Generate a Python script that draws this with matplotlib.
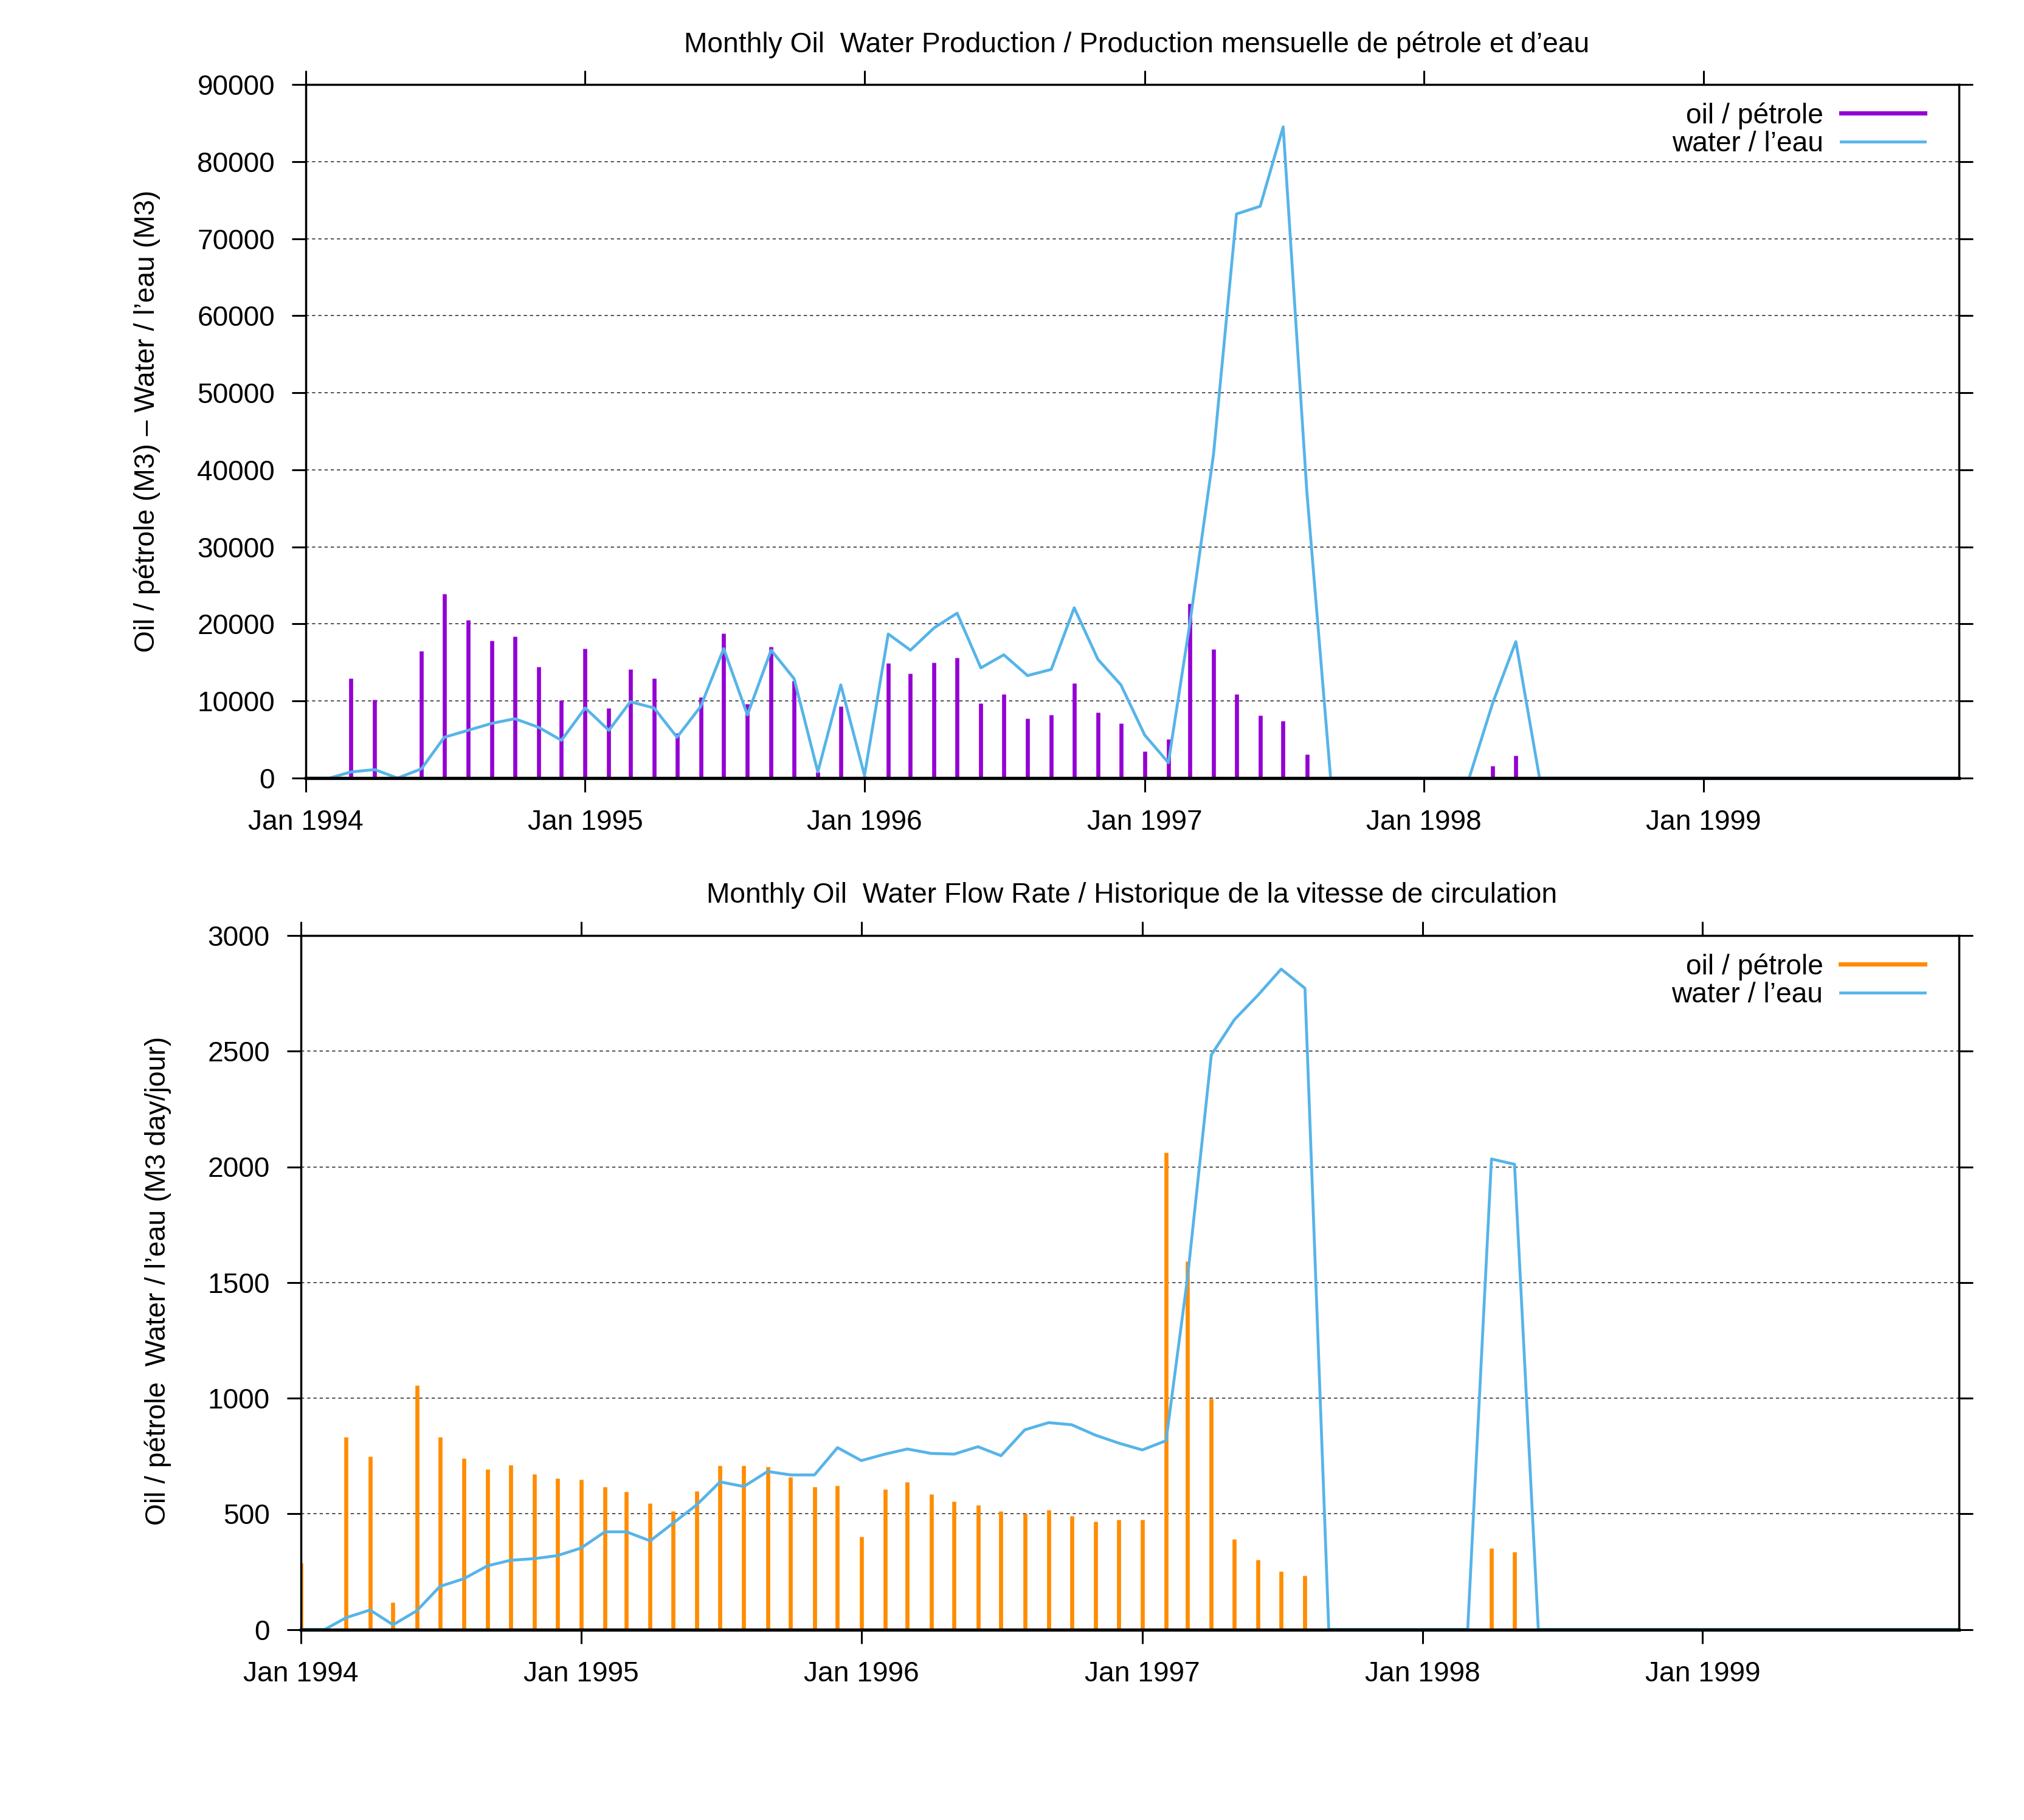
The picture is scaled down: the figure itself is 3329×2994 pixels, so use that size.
import matplotlib
matplotlib.use("Agg")
import matplotlib.pyplot as plt
import matplotlib.dates as mdates
from matplotlib.lines import Line2D
import pandas as pd

plt.rcParams['font.family'] = ['Liberation Sans', 'DejaVu Sans']

# ---------------- data ----------------
dates = pd.date_range('1994-01-01', '1999-12-01', freq='MS')

# Monthly production (M3)
oil_volume = [
    0, 0, 12900, 10200, 0, 16500, 23900, 20500, 17800, 18400, 14400, 10100,      # 1994
    16800, 9100, 14100, 12900, 5800, 10500, 18800, 9600, 17000, 12600, 800, 9300,  # 1995
    250, 14900, 13600, 15000, 15600, 9700, 10900, 7700, 8200, 12300, 8500, 7100,   # 1996
    3450, 5050, 22600, 16700, 10850, 8150, 7450, 3050, 0, 0, 0, 0,                 # 1997
    0, 0, 0, 1600, 2900, 0, 0, 0, 0, 0, 0, 0,                                      # 1998
    0, 0, 0, 0, 0, 0, 0, 0, 0, 0, 0, 0,                                            # 1999
]
water_volume = [
    0, 0, 800, 1100, 0, 1200, 5300, 6200, 7100, 7700, 6600, 4900,                  # 1994
    9100, 6200, 9900, 9100, 5300, 9300, 16800, 8200, 16600, 12900, 800, 12100,     # 1995
    350, 18700, 16600, 19500, 21400, 14300, 16000, 13300, 14100, 22100, 15400, 12100,  # 1996
    5600, 2000, 20000, 42000, 73200, 74200, 84500, 37100, 0, 0, 0, 0,              # 1997
    0, 0, 0, 9800, 17700, 0, 0, 0, 0, 0, 0, 0,                                     # 1998
    0, 0, 0, 0, 0, 0, 0, 0, 0, 0, 0, 0,                                            # 1999
]

# Monthly flow rate (M3 day/jour)
oil_rate = [
    288, 0, 833, 749, 117, 1054, 833, 741, 693, 712, 672, 653,                     # 1994
    649, 617, 596, 546, 512, 599, 707, 709, 704, 659, 617, 622,                    # 1995
    400, 607, 637, 586, 552, 537, 511, 501, 517, 491, 467, 475,                    # 1996
    475, 2062, 1592, 998, 391, 302, 251, 233, 0, 0, 0, 0,                          # 1997
    0, 0, 0, 351, 335, 0, 0, 0, 0, 0, 0, 0,                                        # 1998
    0, 0, 0, 0, 0, 0, 0, 0, 0, 0, 0, 0,                                            # 1999
]
water_rate = [
    0, 0, 51, 84, 20, 81, 186, 219, 275, 299, 306, 319,                            # 1994
    352, 422, 422, 383, 460, 540, 638, 618, 683, 668, 668, 786,                    # 1995
    730, 758, 780, 761, 758, 790, 751, 863, 894, 885, 840, 806,                    # 1996
    776, 816, 1520, 2484, 2636, 2743, 2855, 2772, 0, 0, 0, 0,                      # 1997
    0, 0, 0, 2034, 2011, 0, 0, 0, 0, 0, 0, 0,                                      # 1998
    0, 0, 0, 0, 0, 0, 0, 0, 0, 0, 0, 0,                                            # 1999
]

top_title = "Monthly Oil  Water Production / Production mensuelle de pétrole et d’eau"
bottom_title = "Monthly Oil  Water Flow Rate / Historique de la vitesse de circulation"
top_ylabel = "Oil / pétrole (M3) – Water / l’eau (M3)"
bottom_ylabel = "Oil / pétrole  Water / l’eau (M3 day/jour)"
oil_label = "oil / pétrole"
water_label = "water / l’eau"
top_yticks = list(range(0, 90001, 10000))
bottom_yticks = list(range(0, 3001, 500))

PURPLE = "#9400D3"
ORANGE = "#FF8C00"
BLUE = "#56B4E9"

# ---------------- figure ----------------
W, H = 3329, 2994
DPI = 200
FS = 16.6
fig = plt.figure(figsize=(W / DPI, H / DPI), dpi=DPI)
fig.patch.set_facecolor("white")

def px_axes(left, top, right, bottom):
    return [left / W, 1 - bottom / H, (right - left) / W, (bottom - top) / H]

ax1 = fig.add_axes(px_axes(503, 139, 3222, 1280))
ax2 = fig.add_axes(px_axes(495, 1539, 3222, 2680.5))

def style(ax, oil, water, oil_color, yticks, ymax):
    ax.vlines(dates, 0, oil, colors=oil_color, lw=2.4, zorder=2)
    ax.plot(dates, water, color=BLUE, lw=1.7, zorder=3)
    ax.set_xlim(dates[0], dates[-1])
    ax.set_ylim(0, ymax)
    ax.set_yticks(yticks)
    ax.set_yticklabels([str(v) for v in yticks])
    ax.xaxis.set_major_locator(mdates.YearLocator())
    ax.xaxis.set_major_formatter(mdates.DateFormatter('%b %Y'))
    ax.yaxis.grid(True, linestyle=(0, (3.5, 3.2)), color='#222222', lw=0.55)
    ax.xaxis.grid(False)
    ax.set_axisbelow(True)
    for sp in ax.spines.values():
        sp.set_linewidth(1.25)
        sp.set_zorder(5)
    ax.spines['bottom'].set_linewidth(1.9)
    ax.tick_params(direction='out', length=8.4, width=1.1, top=True, right=True,
                   labelsize=FS, pad=10, colors='black')
    handles = [Line2D([], [], color=oil_color, lw=2.5),
               Line2D([], [], color=BLUE, lw=1.7)]
    ax.legend(handles, [oil_label, water_label], loc='upper right',
              bbox_to_anchor=(0.9794, 0.9745), frameon=False, markerfirst=False,
              fontsize=FS, handlelength=3.0, handletextpad=0.63,
              labelspacing=0.05, borderpad=0, borderaxespad=0)

style(ax1, oil_volume, water_volume, PURPLE, top_yticks, 90000)
style(ax2, oil_rate, water_rate, ORANGE, bottom_yticks, 3000)

fig.text((503 + 3222) / 2 / W + 0.002, 1 - 86 / H, top_title, ha='center', va='baseline', fontsize=FS)
fig.text((495 + 3222) / 2 / W + 0.001, 1 - 1485 / H, bottom_title, ha='center', va='baseline', fontsize=FS)
fig.text(242 / W, 1 - 693 / H, top_ylabel, rotation=90, ha='center', va='center', fontsize=FS)
fig.text(260 / W, 1 - 2107 / H, bottom_ylabel, rotation=90, ha='center', va='center', fontsize=FS)

fig.savefig("out.png", dpi=DPI, facecolor="white")
